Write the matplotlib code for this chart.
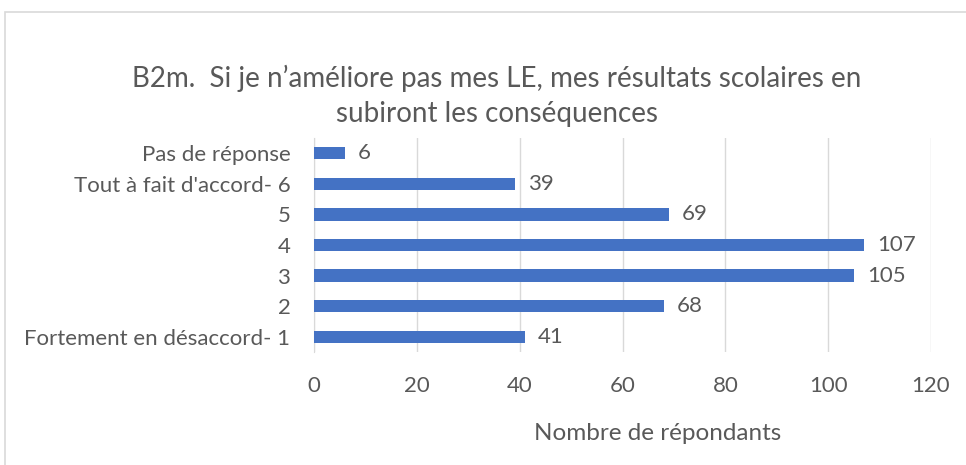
import matplotlib
matplotlib.use("Agg")
import matplotlib.pyplot as plt
from matplotlib.patches import Rectangle

categories = ["Fortement en désaccord- 1", "2", "3", "4", "5",
              "Tout à fait d'accord- 6", "Pas de réponse"]
values = [41, 68, 105, 107, 69, 39, 6]
xticks = [0, 20, 40, 60, 80, 100, 120]
title = "B2m.  Si je n’améliore pas mes LE, mes résultats scolaires en\nsubiront les conséquences"
xlabel = "Nombre de répondants"

plt.rcParams['font.family'] = ['Lato', 'DejaVu Sans']
txt = '#595959'
W, H = 966, 465
fig = plt.figure(figsize=(W/100, H/100), dpi=100)
fig.patches.append(Rectangle((5/W, -0.01), 1.0, 1 - 12/H + 0.01, transform=fig.transFigure,
                             fill=False, edgecolor='#D9D9D9', linewidth=1.2))

ax = fig.add_axes([314/W, 1 - 352/H, (931-314)/W, (352-138)/H])
y = list(range(len(categories)))
ax.barh(y, values, height=0.4, color='#4472C4', zorder=3)
for yi, v in zip(y, values):
    ax.text(v + 2.6, yi, str(v), va='center', ha='left', fontsize=16, color=txt)
ax.set_yticks(y)
ax.set_yticklabels(categories, fontsize=16, color=txt)
ax.set_ylim(-0.5, len(categories) - 0.5)
ax.set_xlim(0, 120)
ax.set_xticks(xticks)
ax.set_xticklabels([str(t) for t in xticks], fontsize=16, color=txt)
ax.xaxis.grid(True, color='#D9D9D9', linewidth=1, zorder=0)
for s in ['top', 'right', 'bottom']:
    ax.spines[s].set_visible(False)
ax.spines['left'].set_color('#D9D9D9')
ax.tick_params(axis='both', length=0)
ax.tick_params(axis='x', pad=17)
ax.tick_params(axis='y', pad=17)
fig.text(658/W, 1 - 433/H, xlabel, ha='center', va='center', fontsize=17.5, color=txt)
fig.text(497/W, 1 - 96/H, title, ha='center', va='center',
         fontsize=20, color=txt, linespacing=1.4)
fig.savefig("out.png", dpi=100)
